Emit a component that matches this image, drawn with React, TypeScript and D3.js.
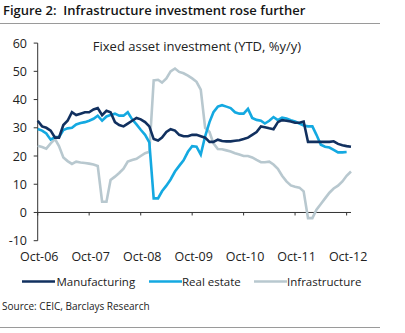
import React from "react";
import * as d3 from "d3";

const monthsCount = 74; // Oct-06 .. Nov-12
const startYear = 2006;
const startMonth = 9; // October

const manufacturing = [
  32.5, 30.5, 30, 29, 26.5, 26.5, 31, 32.5, 35.5, 34.5, 35, 35.5, 35.5, 36.5, 37, 34.5,
  36, 35.5, 32, 31, 30.5, 31.5, 32.5, 33.5, 33, 32, 30.5, 26, 25.5, 26.5, 28.5, 29.5,
  29, 27.5, 27, 27, 27.5, 27.5, 27, 26.5, 25, 25, 25.8, 25.3, 25.2, 25.2, 25.4, 25.6,
  26, 26.5, 27.5, 28.5, 30.5, 30.2, 29.8, 29.5, 32, 32.7, 32.5, 32.2, 31.8, 31.8, 32.2,
  25, 25, 25, 25, 25, 25, 25.2, 24.3, 23.8, 23.5, 23.3,
];

const realEstate = [
  29.6, 29, 28, 25.8, 26.7, 26.7, 29.2, 29.8, 30, 31.2, 31.7, 32, 32.5, 33.2, 34.3, 32.5,
  34, 34.5, 35, 34.3, 34.3, 35.5, 33, 31.2, 29.3, 27.5, 24.8, 5, 5, 7.5, 9.5, 11.7,
  14.5, 16.5, 18.5, 21.5, 23.5, 23.3, 20.5, 27, 32, 35.5, 37.5, 38, 37.5, 37, 35.5, 35,
  35, 36.7, 33.5, 32.8, 32.5, 31.5, 32.5, 33.8, 32.7, 33.6, 33.3, 32.7, 32.2, 31.5, 30.8,
  30.5, 30.5, 27.5, 24, 23.3, 23, 22.2, 21.3, 21.3, 21.4,
];

const infrastructure = [
  23.6, 23.2, 22.6, 24.5, 26, 23.5, 19.5, 18.2, 17.2, 18, 17.7, 17.5, 17.3, 17, 16.5, 3.8,
  3.8, 11.5, 12.7, 14, 15.5, 18, 18.6, 19, 20, 21, 21.5, 46.8, 47, 46, 47.5, 50,
  51, 49.8, 49.3, 48.5, 47.5, 46.3, 43.5, 30, 28.5, 24.5, 22.5, 22.4, 22, 21.6, 21, 20.5,
  20, 20, 19.5, 18.6, 17.8, 17.8, 18, 17, 15.5, 13, 11, 9.6, 9.1, 8.8, 7.5,
  -2, -2, 1, 3, 5, 7, 8.5, 9.5, 11, 13, 14.5,
];

const seriesNames = ["Manufacturing", "Real estate", "Infrastructure"];
const seriesColors = ["#11305f", "#14a9e1", "#b8c8cf"];
const xTickLabels = ["Oct-06", "Oct-07", "Oct-08", "Oct-09", "Oct-10", "Oct-11", "Oct-12"];
const yTicks = [-10, 0, 10, 20, 30, 40, 50, 60];

const title = "Figure 2:  Infrastructure investment rose further";
const subtitle = "Fixed asset investment (YTD, %y/y)";
const source = "Source: CEIC, Barclays Research";

const FONT = "'Open Sans', 'Noto Sans', sans-serif";

export default function App() {
  const W = 405;
  const H = 333;
  const left = 37.7;
  const right = 351;
  const top = 43.1;
  const bottom = 240.7;

  const dates = d3.range(monthsCount).map((i) => new Date(startYear, startMonth + i, 1));
  const x = d3
    .scaleTime()
    .domain([new Date(startYear, startMonth, 1), new Date(2012, 10, 1)])
    .range([left, right]);
  const y = d3.scaleLinear().domain([-10, 60]).range([bottom, top]);

  const tickDates = xTickLabels.map((_, k) => new Date(startYear + k, startMonth, 1));

  const line = d3
    .line<number>()
    .x((_, i) => x(dates[i]))
    .y((d) => y(d))
    .curve(d3.curveLinear);

  const allSeries = [manufacturing, realEstate, infrastructure];
  const drawOrder = [2, 1, 0];

  const legendItems = [
    { lx: 22, tx: 56.5 },
    { lx: 149, tx: 182 },
    { lx: 254, tx: 287 },
  ];

  return (
    <svg
      width={W}
      height={H}
      style={{ position: "absolute", left: 0, top: 0, background: "#fff" }}
      fontFamily={FONT}
    >
      <rect width={W} height={H} fill="#fff" />
      <text x={3} y={15} fontSize={13} fontWeight={600} fill="#151515" style={{ whiteSpace: "pre" }}>
        {title}
      </text>
      <line x1={0} x2={380} y1={23.5} y2={23.5} stroke="#9a9a9a" strokeWidth={1} />

      <text x={197} y={50.5} fontSize={13} fill="#222" textAnchor="middle">
        {subtitle}
      </text>

      {/* y axis */}
      <line x1={left} x2={left} y1={top} y2={bottom} stroke="#333" strokeWidth={1} />
      {yTicks.map((t) => (
        <g key={t}>
          <line x1={left - 4} x2={left} y1={y(t)} y2={y(t)} stroke="#333" strokeWidth={1} />
          <text x={27} y={y(t) + 4.5} fontSize={12.5} fill="#222" textAnchor="end">
            {t}
          </text>
        </g>
      ))}

      {/* x axis at zero */}
      <line x1={left} x2={right} y1={y(0)} y2={y(0)} stroke="#333" strokeWidth={1} />
      {tickDates.map((d, k) => (
        <g key={k}>
          <line x1={x(d)} x2={x(d)} y1={y(0)} y2={y(0) + 3} stroke="#333" strokeWidth={1} />
          <text x={x(d) + 1.5} y={261} fontSize={12.5} fill="#222" textAnchor="middle">
            {xTickLabels[k]}
          </text>
        </g>
      ))}

      {drawOrder.map((s) => (
        <path
          key={s}
          d={line(allSeries[s]) || ""}
          fill="none"
          stroke={seriesColors[s]}
          strokeWidth={2.6}
          strokeLinejoin="miter"
        />
      ))}

      {legendItems.map((it, k) => (
        <g key={k}>
          <line x1={it.lx} x2={it.lx + 33} y1={281.5} y2={281.5} stroke={seriesColors[k]} strokeWidth={2.6} />
          <text x={it.tx} y={286} fontSize={11.5} fill="#222">
            {seriesNames[k]}
          </text>
        </g>
      ))}

      <text x={2} y={310} fontSize={10} fill="#222">
        {source}
      </text>
      <line x1={0} x2={380} y1={327.5} y2={327.5} stroke="#9a9a9a" strokeWidth={1} />
    </svg>
  );
}
